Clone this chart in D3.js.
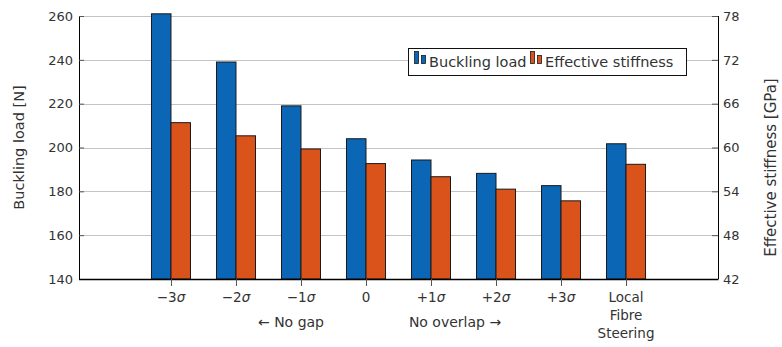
<!DOCTYPE html>
<html>
<head>
<meta charset="utf-8">
<script src="https://cdn.jsdelivr.net/npm/d3@7"></script>
<style>
  html, body { margin: 0; padding: 0; background: #fff; }
  svg { display: block; font-family: "DejaVu Sans", sans-serif; }
</style>
</head>
<body>
<svg id="chart" width="782" height="347"></svg>
<script>
// Categories along the x axis (label parts: [prefix, sigma?])
const categories = ["-3s", "-2s", "-1s", "0", "+1s", "+2s", "+3s", "local"];
const categoryLabels = [
  ["\u22123", true], ["\u22122", true], ["\u22121", true], ["0", false],
  ["+1", true], ["+2", true], ["+3", true], [null, false]
];
const localLabelLines = ["Local", "Fibre", "Steering"];

// Series values
const bucklingLoad = [261, 239, 219, 204, 194.3, 188.2, 182.6, 201.7];      // N
const effectiveStiffness = [63.4, 61.6, 59.8, 57.8, 56.0, 54.3, 52.7, 57.7]; // GPa

// Axis ticks
const leftTicks = [140, 160, 180, 200, 220, 240, 260];
const rightTicks = [42, 48, 54, 60, 66, 72, 78];

const seriesNames = ["Buckling load", "Effective stiffness"];
const colors = ["#0b66b5", "#d9531a"];

const svg = d3.select("#chart");
const plot = { left: 79, right: 718, top: 16, bottom: 279 };

const x = d3.scalePoint().domain(categories).range([plot.left, plot.right]).padding(1.415);
const yL = d3.scaleLinear().domain([140, 260]).range([plot.bottom, plot.top]);
const yR = d3.scaleLinear().domain([42, 78]).range([plot.bottom, plot.top]);
const barW = 19.5;

// Horizontal grid lines
svg.append("g")
  .selectAll("line")
  .data(leftTicks.filter(d => d !== 140))
  .join("line")
  .attr("x1", plot.left).attr("x2", plot.right)
  .attr("y1", d => Math.round(yL(d)) + 0.5).attr("y2", d => Math.round(yL(d)) + 0.5)
  .attr("stroke", "#c4c4c4").attr("stroke-width", 1);

// Bars
const barsG = svg.append("g");
barsG.selectAll("rect.buck")
  .data(bucklingLoad)
  .join("rect")
  .attr("class", "buck")
  .attr("x", (d, i) => x(categories[i]) - barW)
  .attr("y", d => yL(d))
  .attr("width", barW)
  .attr("height", d => yL(140) - yL(d))
  .attr("fill", colors[0]).attr("stroke", "#1a1a1a").attr("stroke-width", 1);
barsG.selectAll("rect.stiff")
  .data(effectiveStiffness)
  .join("rect")
  .attr("class", "stiff")
  .attr("x", (d, i) => x(categories[i]))
  .attr("y", d => yR(d))
  .attr("width", barW)
  .attr("height", d => yR(42) - yR(d))
  .attr("fill", colors[1]).attr("stroke", "#1a1a1a").attr("stroke-width", 1);

// Left axis
const leftAxis = svg.append("g")
  .attr("transform", `translate(${plot.left},0)`)
  .call(d3.axisLeft(yL).tickValues(leftTicks).tickSize(0).tickPadding(6));
leftAxis.select(".domain").attr("stroke", "#000").attr("d", `M0.5,${plot.top}V${plot.bottom}`);
leftAxis.selectAll(".tick text").attr("font-size", 13).attr("fill", "#333")
  .attr("font-family", "DejaVu Sans, sans-serif");
leftAxis.selectAll(".tick").append("line").attr("x1", 0).attr("x2", 5).attr("stroke", "#555");

// Right axis
const rightAxis = svg.append("g")
  .attr("transform", `translate(${plot.right},0)`)
  .call(d3.axisRight(yR).tickValues(rightTicks).tickSize(0).tickPadding(5));
rightAxis.select(".domain").attr("stroke", "#000").attr("d", `M0.5,${plot.top}V${plot.bottom}`);
rightAxis.selectAll(".tick text").attr("font-size", 13).attr("fill", "#333")
  .attr("font-family", "DejaVu Sans, sans-serif");
rightAxis.selectAll(".tick").append("line").attr("x1", 0).attr("x2", -6).attr("stroke", "#555");

// Bottom axis
const bottomAxis = svg.append("g")
  .attr("transform", `translate(0,${plot.bottom})`)
  .call(d3.axisBottom(x).tickSize(7).tickFormat(""));
bottomAxis.select(".domain").attr("stroke", "#000").attr("stroke-width", 1.5)
  .attr("d", `M${plot.left},0.5H${plot.right + 0.5}`);
bottomAxis.selectAll(".tick line").attr("stroke", "#555");

// Bottom tick labels
const labelsG = svg.append("g").attr("font-size", 13.5).attr("fill", "#333").attr("text-anchor", "middle");
categories.forEach((c, i) => {
  const cx = x(c);
  const [prefix, sigma] = categoryLabels[i];
  if (prefix !== null) {
    const t = labelsG.append("text").attr("x", cx).attr("y", 302);
    t.append("tspan").text(prefix);
    if (sigma) t.append("tspan").attr("font-style", "italic").text("\u03c3");
  } else {
    localLabelLines.forEach((line, k) => {
      labelsG.append("text").attr("x", cx).attr("y", 302 + k * 18).text(line);
    });
  }
});

// Direction notes below the sigma labels
const notesG = svg.append("g").attr("font-size", 14).attr("fill", "#333").attr("text-anchor", "middle");
notesG.append("text").attr("x", x("-1s") - 10).attr("y", 327).text("\u2190 No gap");
notesG.append("text").attr("x", x("+1s") + 24).attr("y", 327).text("No overlap \u2192");

// Axis titles
svg.append("text")
  .attr("transform", `translate(24,${(plot.top + plot.bottom) / 2}) rotate(-90)`)
  .attr("text-anchor", "middle").attr("font-size", 14.5).attr("fill", "#333")
  .text("Buckling load [N]");
svg.append("text")
  .attr("transform", `translate(776,${(plot.top + plot.bottom) / 2 + 20}) rotate(-90)`)
  .attr("text-anchor", "middle").attr("font-size", 15).attr("fill", "#333")
  .text("Effective stiffness [GPa]");

// Legend
const legend = svg.append("g");
legend.append("rect")
  .attr("x", 408.5).attr("y", 48.5).attr("width", 278).attr("height", 27)
  .attr("fill", "#fff").attr("stroke", "#111").attr("stroke-width", 1);
const legendItems = [
  { name: seriesNames[0], color: colors[0], x: 414 },
  { name: seriesNames[1], color: colors[1], x: 530 }
];
legendItems.forEach(item => {
  legend.append("rect").attr("x", item.x + 0.5).attr("y", 51.5).attr("width", 4).attr("height", 12)
    .attr("fill", item.color).attr("stroke", "#1a1a1a").attr("stroke-width", 0.8);
  legend.append("rect").attr("x", item.x + 7.5).attr("y", 55.5).attr("width", 4).attr("height", 8)
    .attr("fill", item.color).attr("stroke", "#1a1a1a").attr("stroke-width", 0.8);
  legend.append("text").attr("x", item.x + 15).attr("y", 67)
    .attr("font-size", 14.5).attr("fill", "#333").text(item.name);
});
</script>
</body>
</html>
